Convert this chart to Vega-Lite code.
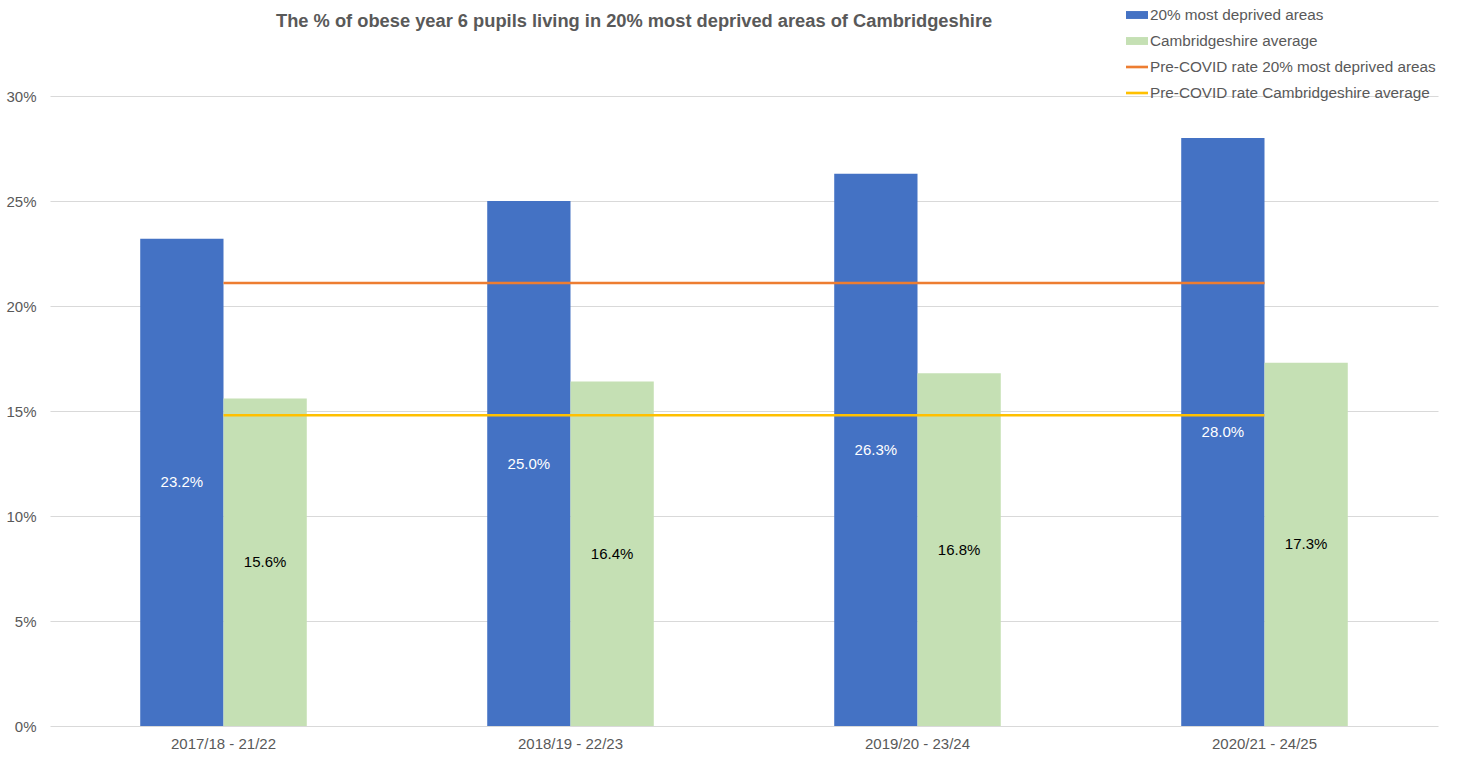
{
  "$schema": "https://vega.github.io/schema/vega-lite/v6.json",
  "width": 1388,
  "height": 630,
  "autosize": {"type": "none"},
  "padding": {"left": 50, "top": 96, "right": 23, "bottom": 38},
  "background": "white",
  "config": {
    "font": "Liberation Sans",
    "view": {"stroke": null}
  },
  "title": {
    "text": "The % of obese year 6 pupils living in 20% most deprived areas of Cambridgeshire",
    "anchor": "start",
    "dx": 270,
    "offset": -27,
    "fontSize": 18.3,
    "fontWeight": "bold",
    "color": "#595959",
    "font": "Liberation Sans"
  },
  "datasets": {
    "bars": [
      {"period": "2017/18 - 21/22", "series": "20% most deprived areas", "value": 0.232},
      {"period": "2017/18 - 21/22", "series": "Cambridgeshire average", "value": 0.156},
      {"period": "2018/19 - 22/23", "series": "20% most deprived areas", "value": 0.250},
      {"period": "2018/19 - 22/23", "series": "Cambridgeshire average", "value": 0.164},
      {"period": "2019/20 - 23/24", "series": "20% most deprived areas", "value": 0.263},
      {"period": "2019/20 - 23/24", "series": "Cambridgeshire average", "value": 0.168},
      {"period": "2020/21 - 24/25", "series": "20% most deprived areas", "value": 0.280},
      {"period": "2020/21 - 24/25", "series": "Cambridgeshire average", "value": 0.173}
    ],
    "lines": [
      {"period": "2017/18 - 21/22", "series": "Pre-COVID rate 20% most deprived areas", "value": 0.211},
      {"period": "2018/19 - 22/23", "series": "Pre-COVID rate 20% most deprived areas", "value": 0.211},
      {"period": "2019/20 - 23/24", "series": "Pre-COVID rate 20% most deprived areas", "value": 0.211},
      {"period": "2020/21 - 24/25", "series": "Pre-COVID rate 20% most deprived areas", "value": 0.211},
      {"period": "2017/18 - 21/22", "series": "Pre-COVID rate Cambridgeshire average", "value": 0.148},
      {"period": "2018/19 - 22/23", "series": "Pre-COVID rate Cambridgeshire average", "value": 0.148},
      {"period": "2019/20 - 23/24", "series": "Pre-COVID rate Cambridgeshire average", "value": 0.148},
      {"period": "2020/21 - 24/25", "series": "Pre-COVID rate Cambridgeshire average", "value": 0.148}
    ]
  },
  "encoding": {
    "x": {
      "field": "period",
      "type": "nominal",
      "sort": null,
      "scale": {"paddingInner": 0.52, "paddingOuter": 0.26},
      "axis": {
        "title": null,
        "labelAngle": 0,
        "labelFontSize": 15,
        "labelColor": "#595959",
        "labelPadding": 10,
        "ticks": false,
        "domain": false,
        "grid": false
      }
    }
  },
  "layer": [
    {
      "data": {"name": "bars"},
      "mark": {"type": "bar"},
      "encoding": {
        "xOffset": {"field": "series", "type": "nominal", "sort": null, "scale": {"paddingInner": 0, "paddingOuter": 0}},
        "y": {
          "field": "value",
          "type": "quantitative",
          "scale": {"domain": [0, 0.3], "nice": false},
          "axis": {
            "title": null,
            "format": ".0%",
            "values": [0, 0.05, 0.1, 0.15, 0.2, 0.25, 0.3],
            "labelFontSize": 15,
            "labelColor": "#595959",
            "labelPadding": 14,
            "ticks": false,
            "domain": false,
            "gridColor": "#D9D9D9",
            "gridWidth": 1
          }
        },
        "color": {
          "field": "series",
          "type": "nominal",
          "scale": {
            "domain": ["20% most deprived areas", "Cambridgeshire average", "Pre-COVID rate 20% most deprived areas", "Pre-COVID rate Cambridgeshire average"],
            "range": ["#4472C4", "#C5E0B4", "#ED7D31", "#FFC000"]
          },
          "legend": {
            "title": null,
            "orient": "none",
            "legendX": 1076,
            "legendY": -92,
            "labelFontSize": 15.3,
            "labelColor": "#595959",
            "labelOffset": 2,
            "labelLimit": 400,
            "rowPadding": 6,
            "symbolSize": 484,
            "symbolStrokeWidth": 0,
            "symbolType": "M-1,-0.36H1V0.36H-1Z",
            "encode": {
              "symbols": {
                "update": {
                  "shape": {"signal": "indexof(datum.value, 'Pre-COVID') === 0 ? 'M-1,-0.12H1V0.12H-1Z' : 'M-1,-0.36H1V0.36H-1Z'"},
                  "fill": {"scale": "color", "field": "value"},
                  "strokeWidth": {"value": 0}
                }
              }
            }
          }
        }
      }
    },
    {
      "data": {"name": "lines"},
      "mark": {"type": "line", "strokeWidth": 2.5},
      "encoding": {
        "y": {"field": "value", "type": "quantitative", "scale": {"domain": [0, 0.3], "nice": false}, "axis": null},
        "color": {"field": "series", "type": "nominal"}
      }
    },
    {
      "data": {"name": "bars"},
      "mark": {"type": "text", "fontSize": 15, "baseline": "middle", "align": "center"},
      "encoding": {
        "xOffset": {"field": "series", "type": "nominal", "sort": null},
        "y": {"field": "value", "type": "quantitative", "scale": {"domain": [0, 0.6], "nice": false}, "axis": null},
        "text": {"field": "value", "type": "quantitative", "format": ".1%"},
        "color": {
          "condition": {"test": "datum.series === 'Cambridgeshire average'", "value": "#000000"},
          "value": "#FFFFFF"
        }
      }
    }
  ],
  "resolve": {"scale": {"y": "independent"}}
}
